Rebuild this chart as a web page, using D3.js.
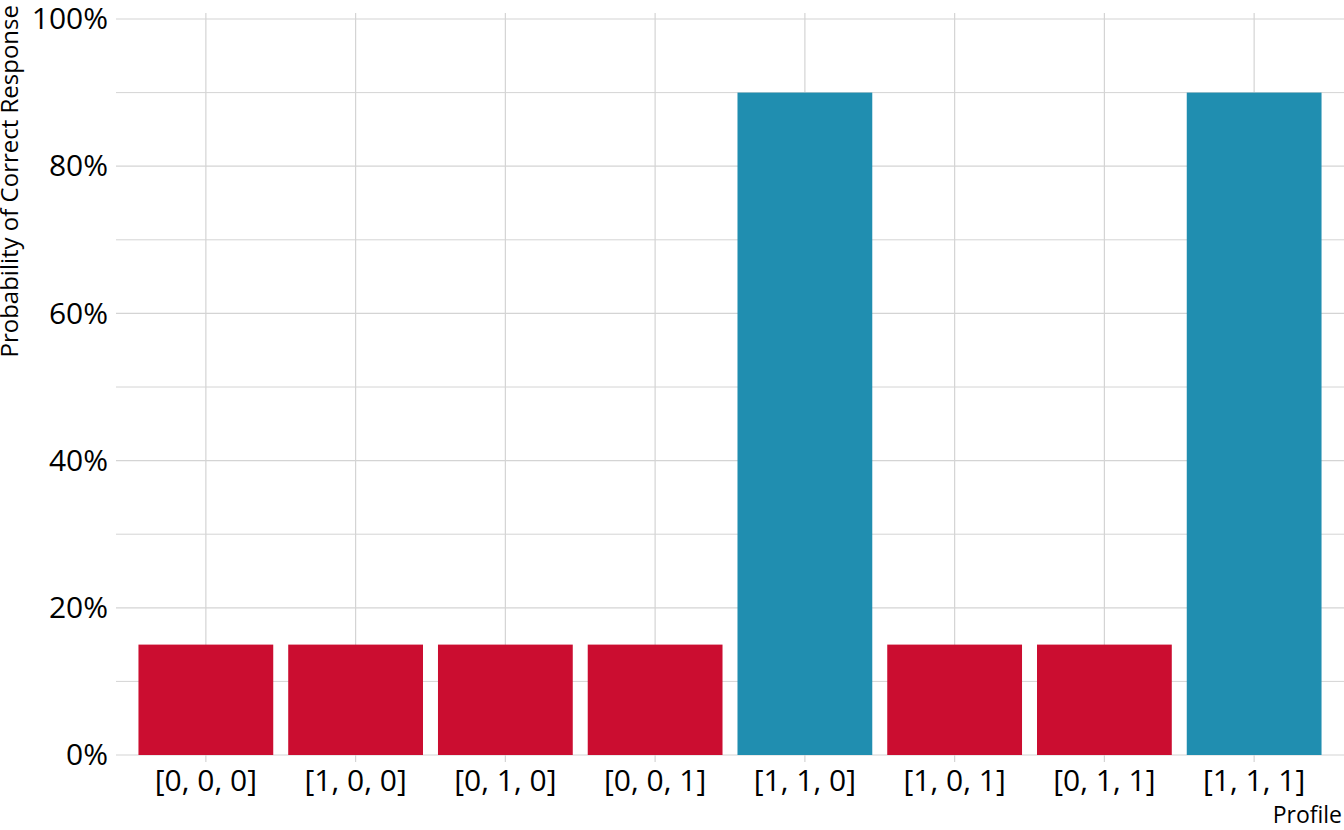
<!DOCTYPE html>
<html>
<head>
<meta charset="utf-8">
<script src="https://cdn.jsdelivr.net/npm/d3@7"></script>
<style>
  body { margin: 0; background: #fff; }
  svg { display: block; }
  svg text { font-family: 'Open Sans', 'Noto Sans', sans-serif; fill: #000; }
</style>
</head>
<body>
<svg id="chart" width="1344" height="830"></svg>
<script>
// data
const profiles = ['[0, 0, 0]', '[1, 0, 0]', '[0, 1, 0]', '[0, 0, 1]', '[1, 1, 0]', '[1, 0, 1]', '[0, 1, 1]', '[1, 1, 1]'];
const probCorrect = [0.15, 0.15, 0.15, 0.15, 0.90, 0.15, 0.15, 0.90];
const mastered = [false, false, false, false, true, false, false, true];
const yTicks = [0, 0.2, 0.4, 0.6, 0.8, 1.0];
const yMinor = [0.1, 0.3, 0.5, 0.7, 0.9];

const data = profiles.map((p, i) => ({ profile: p, value: probCorrect[i], mastered: mastered[i] }));

const svg = d3.select('#chart');

// layout
const left = 116, right = 1344, panelTop = 13, y0 = 755, y1 = 19;
const gridColor = '#d4d4d4';
const colRed = '#cb0d30', colTeal = '#208eb0';

// scales
const x = d3.scaleBand()
  .domain(profiles)
  .range([left, right])
  .paddingInner(0.1)
  .paddingOuter(0.15);

const y = d3.scaleLinear()
  .domain([0, 1])
  .range([y0, y1]);

// grid layer
const grid = svg.append('g').attr('class', 'grid');

grid.selectAll('.hminor').data(yMinor)
  .join('line')
  .attr('x1', left).attr('x2', right)
  .attr('y1', d => y(d)).attr('y2', d => y(d))
  .style('stroke', gridColor).style('stroke-width', 1);

grid.selectAll('.hmajor').data(yTicks)
  .join('line')
  .attr('class', 'hmajor')
  .attr('x1', left).attr('x2', right)
  .attr('y1', d => y(d)).attr('y2', d => y(d))
  .style('stroke', gridColor).style('stroke-width', 1.2);

grid.selectAll('.vgrid').data(profiles)
  .join('line')
  .attr('class', 'vgrid')
  .attr('x1', d => x(d) + x.bandwidth() / 2)
  .attr('x2', d => x(d) + x.bandwidth() / 2)
  .attr('y1', panelTop).attr('y2', y0)
  .style('stroke', gridColor).style('stroke-width', 1.2);

// bars
svg.append('g').selectAll('rect').data(data)
  .join('rect')
  .attr('x', d => x(d.profile))
  .attr('width', x.bandwidth())
  .attr('y', d => y(d.value))
  .attr('height', d => y(0) - y(d.value))
  .attr('fill', d => d.mastered ? colTeal : colRed);

// x axis
const xAxis = svg.append('g')
  .attr('transform', `translate(0,${y0})`)
  .call(d3.axisBottom(x).tickSize(7).tickPadding(8));
xAxis.attr('font-family', null);
xAxis.select('.domain').remove();
xAxis.selectAll('.tick line').style('stroke', gridColor).style('stroke-width', 1.2);
xAxis.selectAll('.tick text').style('font-size', '30px');

// y axis
const yAxis = svg.append('g')
  .attr('transform', `translate(${left},0)`)
  .call(d3.axisLeft(y).tickValues(yTicks).tickFormat(d3.format('.0%')).tickSize(0).tickPadding(8));
yAxis.attr('font-family', null);
yAxis.select('.domain').remove();
yAxis.selectAll('.tick text').style('font-size', '30px');

// axis titles
svg.append('text')
  .attr('transform', 'rotate(-90)')
  .attr('x', -5)
  .attr('y', 18)
  .attr('text-anchor', 'end')
  .style('font-size', '24px')
  .text('Probability of Correct Response');

svg.append('text')
  .attr('x', 1342)
  .attr('y', 823)
  .attr('text-anchor', 'end')
  .style('font-size', '23px')
  .text('Profile');
</script>
</body>
</html>
